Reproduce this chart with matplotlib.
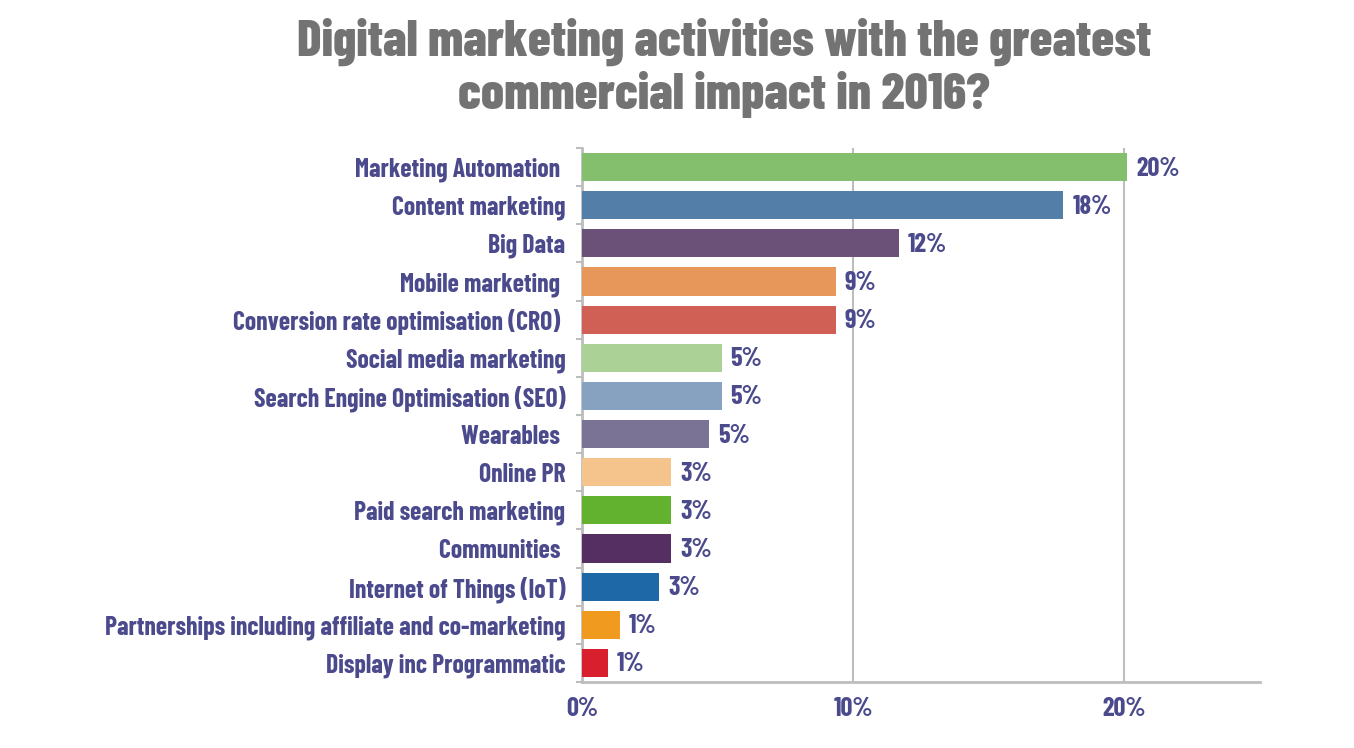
import matplotlib
matplotlib.use("Agg")
import matplotlib.pyplot as plt

categories = ["Marketing Automation ", "Content marketing", "Big Data", "Mobile marketing ",
              "Conversion rate optimisation (CRO) ", "Social media marketing",
              "Search Engine Optimisation (SEO)", "Wearables ", "Online PR",
              "Paid search marketing", "Communities ", "Internet of Things (IoT)",
              "Partnerships including affiliate and co-marketing", "Display inc Programmatic"]
values = [20.1, 17.75, 11.7, 9.35, 9.35, 5.15, 5.15, 4.7, 3.3, 3.3, 3.3, 2.85, 1.4, 0.95]
value_labels = ["20%", "18%", "12%", "9%", "9%", "5%", "5%", "5%", "3%", "3%", "3%", "3%", "1%", "1%"]
colors = ["#84bf6e", "#527ea8", "#6b5078", "#e8975a", "#d05f55", "#acd196", "#86a2c0",
          "#7a7396", "#f5c48c", "#63b22f", "#552f62", "#1f68a8", "#f09a20", "#d81f2e"]
xticks = [0, 10, 20]
xtick_labels = ["0%", "10%", "20%"]

plt.rcParams['font.family'] = ['Barlow Condensed', 'DejaVu Sans']

navy = "#4b4a8c"
grey = "#bdbdbd"

fig = plt.figure(figsize=(13.54, 7.48), dpi=100)
ax = fig.add_axes([0.4298, 0.0882, 0.5007, 0.7139])

ypos = list(range(len(categories)))
ax.barh(ypos, values, height=0.74, color=colors, zorder=3)
for y, v, lab in zip(ypos, values, value_labels):
    ax.text(v + 0.33, y + 0.04, lab, va='center', ha='left', fontsize=19, fontweight='bold', color=navy)

ax.set_ylim(len(categories) - 0.5, -0.5)
ax.set_xlim(0, 25)
ax.set_yticks(ypos)
ax.set_yticklabels(categories, fontsize=18.5, fontweight='bold', color=navy)
ax.set_yticks([y + 0.5 for y in range(-1, len(categories))], minor=True)
ax.tick_params(axis='y', which='major', length=0, pad=12)
ax.tick_params(axis='y', which='minor', length=4, color=grey, width=1.5)
ax.set_xticks(xticks)
ax.set_xticklabels(xtick_labels, fontsize=19, fontweight='bold', color=navy)
ax.tick_params(axis='x', length=0, pad=11)
ax.grid(axis='x', color=grey, linewidth=1.5, zorder=0)

for s in ['top', 'right']:
    ax.spines[s].set_visible(False)
for s in ['left', 'bottom']:
    ax.spines[s].set_color(grey)
    ax.spines[s].set_linewidth(2)

fig.text(0.535, 0.909, "Digital marketing activities with the greatest\ncommercial impact in 2016?",
         ha='center', va='center', fontsize=37, fontweight='heavy', color="#737373", linespacing=1.14)

fig.savefig("out.png", dpi=100)
